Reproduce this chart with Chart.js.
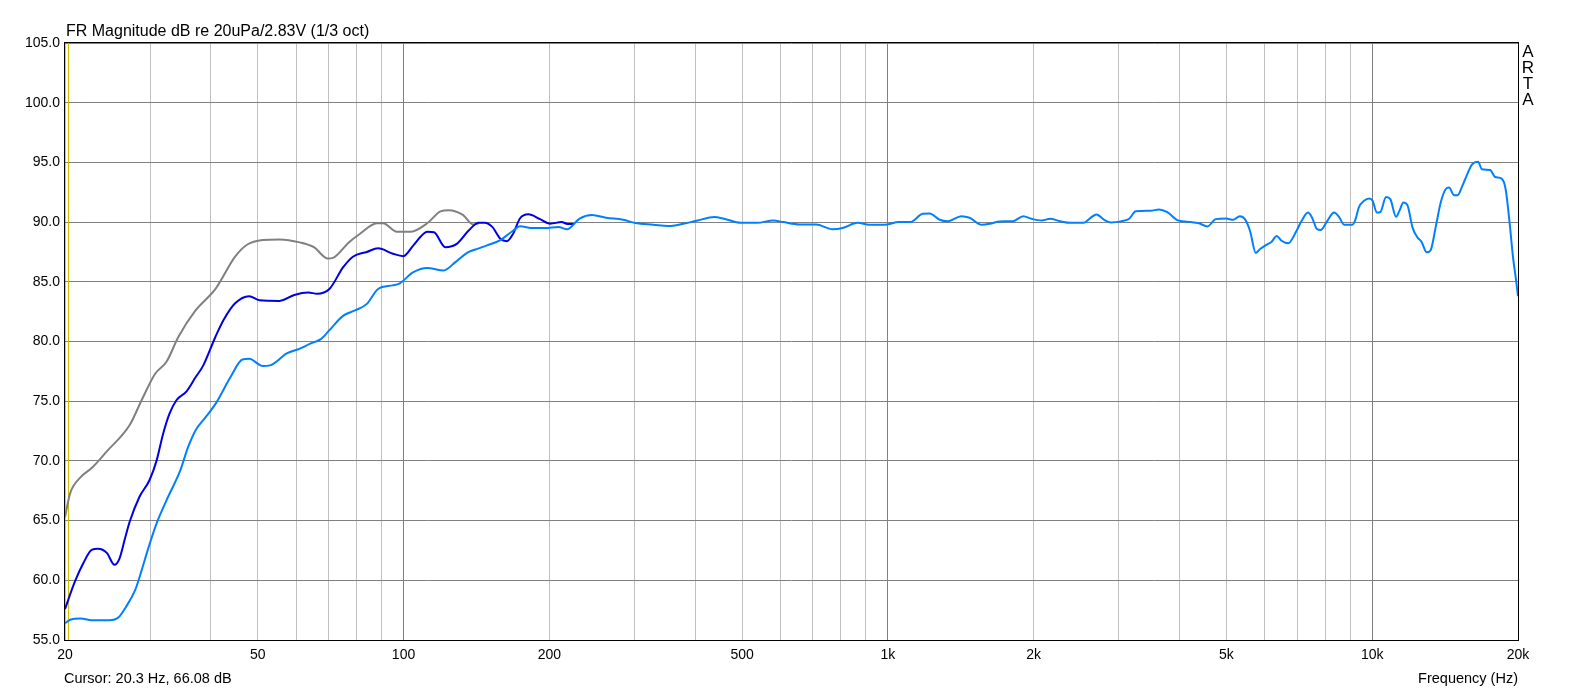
<!DOCTYPE html>
<html lang="en">
<head>
  <meta charset="UTF-8">
  <script src="https://cdn.jsdelivr.net/npm/chart.js"></script>
  <title>FR Magnitude</title>
  <style>
    body { margin: 0; background: #fff; }
    canvas { display: block; }
  </style>
</head>
<body>
  <canvas id="chartFR" width="1582" height="690"></canvas>

<script>
  // valores (Hz, dB)
  const grayFreq = [20, 20.5, 21.5, 22.7, 24.4, 27.2, 28.8, 30.7, 32.4, 34.3, 37.2, 40.9, 44.9, 47.5, 51.2, 55.5, 61.1, 65.3, 69.8, 71.5, 77.1, 81.2, 88.1, 90.7, 96.9, 103.6, 111.9, 119.2, 124, 132.6, 139.2, 143];
  const grayDb = [65.3, 67.3, 68.6, 69.4, 70.8, 73.0, 75.1, 77.3, 78.3, 80.4, 82.6, 84.4, 87.1, 88.1, 88.5, 88.55, 88.3, 87.9, 86.95, 87.0, 88.3, 89.0, 89.9, 89.9, 89.2, 89.2, 89.9, 90.9, 91.0, 90.6, 89.8, 89.9];

  const darkFreq = [20, 20.97, 21.8, 22.7, 23.4, 24.4, 25.3, 25.9, 26.6, 27.2, 28.5, 29.9, 30.9, 31.9, 32.9, 34.0, 35.6, 37.2, 38.6, 40.9, 42.5, 44.9, 48.0, 50.4, 55.5, 59.5, 63.6, 66.3, 70.3, 75.0, 78.6, 84.0, 88.6, 95.1, 99.9, 104.8, 112, 115.6, 122, 129, 136.3, 143, 147, 152.5, 158.5, 163.4, 168.5, 173.9, 181, 191.4, 200.7, 212, 218, 225];
  const darkDb = [57.6, 59.9, 61.4, 62.55, 62.65, 62.3, 61.3, 61.8, 63.5, 64.9, 67.0, 68.4, 70.0, 72.3, 74.0, 75.1, 75.8, 77.0, 78.0, 80.4, 81.8, 83.2, 83.8, 83.45, 83.4, 83.9, 84.1, 84.0, 84.4, 86.2, 87.1, 87.5, 87.8, 87.35, 87.15, 88.05, 89.2, 89.15, 87.9, 88.2, 89.3, 89.95, 89.95, 89.6, 88.6, 88.4, 89.05, 90.3, 90.65, 90.25, 89.87, 90.0, 89.85, 89.85];

  const lightFreq = [20, 20.5, 21.5, 22.9, 24.7, 25.8, 26.7, 27.9, 28.8, 29.7,
    30.9, 32.4, 34.6, 35.9, 37.2, 39.1, 41.1, 43.9, 46.5, 48,
    51.2, 53, 57.4, 61.1, 64, 67.5, 70.3, 75, 79.4, 84,
    88.6, 95, 98, 104.8, 111.9, 121, 128, 136.3, 143, 148.7,
    158.5, 168.5, 173.9, 185, 196, 209, 217.5, 231, 245, 262,
    284, 301, 328, 352, 378, 405, 438, 459, 497, 537,
    580, 608, 657, 711, 769, 806, 866, 915, 983, 1054,
    1111, 1181, 1220, 1279, 1331, 1418, 1475, 1560, 1623, 1702,
    1813, 1904, 1980, 2078, 2162, 2268, 2379, 2538, 2621, 2698,
    2793, 2885, 3026, 3149, 3250, 3488, 3629, 3774, 3970, 4228,
    4387, 4570, 4752, 4997, 5160, 5330, 5461, 5593, 5750, 5870,
    6060, 6200, 6350, 6500, 6710, 6980, 7150, 7370, 7510, 7690,
    7820, 8080, 8340, 8540, 8750, 9100, 9240, 9380, 9620, 9860,
    10020, 10230, 10400, 10680, 10900, 11200, 11380, 11600, 11820, 12110,
    12400, 12640, 12960, 13210, 13520, 13850, 14180, 14410, 14760, 15000,
    15350, 15710, 16080, 16540, 16850, 17510, 17940, 18500, 18860, 19230,
    19530, 19780, 20000];
  const lightDb = [56.4, 56.7, 56.8, 56.65, 56.65, 56.9, 57.75, 59.15, 60.85, 62.65,
    64.75, 66.7, 69.2, 71.15, 72.55, 73.7, 74.9, 77.0, 78.5, 78.55,
    77.95, 78.0, 79.0, 79.4, 79.8, 80.2, 80.95, 82.15, 82.6, 83.15,
    84.4, 84.7, 84.85, 85.8, 86.15, 85.95, 86.65, 87.5, 87.8, 88.05,
    88.5, 89.3, 89.65, 89.5, 89.5, 89.6, 89.4, 90.3, 90.6, 90.36,
    90.2, 89.92, 89.78, 89.67, 89.86, 90.14, 90.42, 90.28, 89.94, 89.94,
    90.14, 90.0, 89.8, 89.8, 89.4, 89.5, 89.94, 89.78, 89.78, 90.0,
    90.0, 90.7, 90.73, 90.2, 90.08, 90.5, 90.36, 89.78, 89.86, 90.06,
    90.08, 90.5, 90.28, 90.14, 90.28, 90.08, 89.94, 89.94, 90.36, 90.64,
    90.2, 89.97, 90.06, 90.28, 90.9, 90.95, 91.06, 90.84, 90.14, 90.0,
    89.9, 89.64, 90.25, 90.3, 90.19, 90.5, 90.25, 89.28, 87.42, 87.75,
    88.11, 88.36, 88.83, 88.44, 88.22, 89.28, 90.11, 90.8, 90.39, 89.42,
    89.33, 90.11, 90.8, 90.44, 89.78, 89.78, 90.25, 91.22, 91.78, 91.97,
    91.78, 90.8, 90.86, 92.1, 91.92, 90.44, 90.94, 91.64, 91.44, 89.56,
    88.72, 88.36, 87.47, 87.67, 89.56, 91.64, 92.75, 92.89, 92.25, 92.25,
    93.03, 94.0, 94.83, 95.06, 94.42, 94.36, 93.78, 93.64, 92.75, 89.83,
    87.06, 85.39, 83.8];

  // linhas de grade verticais e rotulos do eixo x
  const gridFreqs = [20, 30, 40, 50, 60, 70, 80, 90, 100, 200, 300, 400, 500, 600, 700, 800, 900,
    1000, 2000, 3000, 4000, 5000, 6000, 7000, 8000, 9000, 10000, 20000];
  const labelFreqs = [20, 50, 100, 200, 500, 1000, 2000, 5000, 10000, 20000];
  const labelTexts = ['20', '50', '100', '200', '500', '1k', '2k', '5k', '10k', '20k'];
  const majorFreqs = [100, 1000, 10000];
  const yTicks = [55, 60, 65, 70, 75, 80, 85, 90, 95, 100, 105];

  const cursorFreq = 20.3;
  const fonte = '"Liberation Sans", Arial, sans-serif';

  function pontos(f, d) {
    var p = [];
    for (var i = 0; i < f.length; i++) {
      p.push({ x: f[i], y: d[i] });
    }
    return p;
  }

  // moldura, cursor e textos
  const extras = {
    id: 'extras',
    beforeDatasetsDraw(chart) {
      const ctx = chart.ctx;
      const a = chart.chartArea;
      const cx = Math.round(chart.scales.x.getPixelForValue(cursorFreq)) + 0.5;
      ctx.save();
      ctx.strokeStyle = '#c8c000';
      ctx.lineWidth = 1;
      ctx.beginPath();
      ctx.moveTo(cx, a.top);
      ctx.lineTo(cx, a.bottom);
      ctx.stroke();
      ctx.restore();
    },
    afterDraw(chart) {
      const ctx = chart.ctx;
      const a = chart.chartArea;
      ctx.save();
      ctx.strokeStyle = '#000';
      ctx.lineWidth = 1;
      ctx.strokeRect(Math.round(a.left) - 0.5, Math.round(a.top) - 0.5,
        Math.round(a.right - a.left) + 1, Math.round(a.bottom - a.top) + 1);

      ctx.fillStyle = '#000';
      ctx.textBaseline = 'alphabetic';
      ctx.font = '16px ' + fonte;
      ctx.textAlign = 'left';
      ctx.fillText('FR Magnitude dB re 20uPa/2.83V (1/3 oct)', 66, 36);

      ctx.font = '14.5px ' + fonte;
      ctx.fillText('Cursor: 20.3 Hz, 66.08 dB', 64, 683);
      ctx.textAlign = 'right';
      ctx.fillText('Frequency (Hz)', a.right, 683);

      ctx.font = '17px ' + fonte;
      ctx.textAlign = 'center';
      const letras = ['A', 'R', 'T', 'A'];
      for (var i = 0; i < letras.length; i++) {
        ctx.fillText(letras[i], 1528, 57 + i * 16);
      }
      ctx.restore();
    }
  };

  const dataFR = {
    datasets: [
      { label: 'light', data: pontos(lightFreq, lightDb), borderColor: '#0080ff' },
      { label: 'dark', data: pontos(darkFreq, darkDb), borderColor: '#0000e6' },
      { label: 'gray', data: pontos(grayFreq, grayDb), borderColor: '#808080' }
    ].map(function (d) {
      return Object.assign(d, {
        borderWidth: 2,
        pointRadius: 0,
        fill: false,
        cubicInterpolationMode: 'monotone'
      });
    })
  };

  const configFR = {
    type: 'line',
    data: dataFR,
    plugins: [extras],
    options: {
      responsive: false,
      animation: false,
      events: [],
      layout: { padding: { left: 0, right: 64, top: 43, bottom: 0 } },
      plugins: { legend: { display: false }, tooltip: { enabled: false }, title: { display: false } },
      scales: {
        x: {
          type: 'logarithmic',
          min: 20,
          max: 20000,
          afterBuildTicks: function (s) {
            s.ticks = gridFreqs.map(function (v) { return { value: v }; });
          },
          afterFit: function (s) { s.height = 50; },
          border: { display: false },
          grid: {
            drawTicks: false,
            color: function (c) {
              return majorFreqs.indexOf(c.tick && c.tick.value) >= 0 ? '#808080' : '#c0c0c0';
            }
          },
          ticks: {
            autoSkip: false,
            maxRotation: 0,
            padding: 7,
            color: '#000',
            font: { family: fonte, size: 14 },
            callback: function (v) {
              var i = labelFreqs.indexOf(v);
              return i >= 0 ? labelTexts[i] : '';
            }
          }
        },
        y: {
          type: 'linear',
          min: 55,
          max: 105,
          afterBuildTicks: function (s) {
            s.ticks = yTicks.map(function (v) { return { value: v }; });
          },
          afterFit: function (s) { s.width = 65; },
          border: { display: false },
          grid: { drawTicks: false, color: '#808080' },
          ticks: {
            padding: 5,
            color: '#000',
            font: { family: fonte, size: 14 },
            callback: function (v) { return v.toFixed(1); }
          }
        }
      }
    }
  };

  const fr = new Chart(document.getElementById('chartFR'), configFR);
</script>
</body>
</html>
